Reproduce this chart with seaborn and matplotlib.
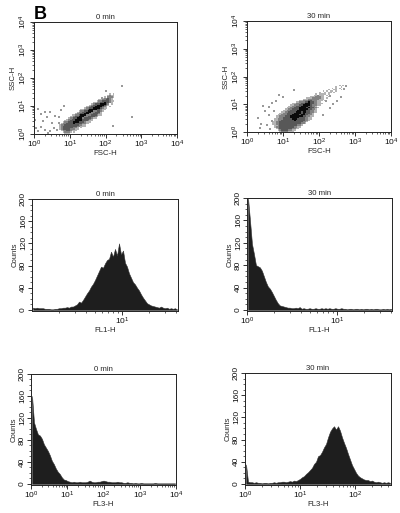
import matplotlib
matplotlib.use('Agg')
import matplotlib.pyplot as plt
import seaborn as sns
import numpy as np
from matplotlib.colors import ListedColormap
from matplotlib.ticker import LogLocator, NullFormatter, FixedLocator, FuncFormatter

# density levels, top row first, 0.05 decade cells, '.' is empty
dens_0min = [
    "..............................1.1",
    ".............................1211",
    "...........................1.2221",
    "..........................122321",
    "........................11223321",
    ".......................1223333211",
    ".....................11223343321",
    "....................1233344432.1",
    "...................12334444321",
    ".................112334444321.1",
    "................1223344443211",
    "..............11223444433211",
    ".............12233444223321",
    "............12233444223331",
    "...........122334442233321",
    ".........11223444222333211",
    "........1123344422333321",
    ".......1223344423333211",
    "......122334444333321",
    ".....1123334444333211",
    "....1223334443332111",
    "...1223333433332211",
    "..122333333332211",
    "..123333333322111",
    "..12333333221.1",
    "..12333322211",
    "...122332111",
    "....12221.1",
    ".....111",
]
dens_30min = [
    ".......................................1.1",
    ".....................................1..1",
    "...................................1.1.1",
    ".................................1..11..1",
    "..............................1.1.11.1",
    "............................1..1.11.1",
    "..........................1.1111.1",
    ".........................112111.1",
    ".......................11122211..1",
    ".....................1112222211.1",
    "...................111222222111",
    ".................1122233222111.1",
    "...............11222334332211",
    ".............11222334443322111",
    "............11222334444322211",
    "...........1122333444433221",
    "..........112233344443433221",
    ".........112233334444433221",
    "........1122333344444332211",
    ".......11223333444344332211",
    "......1122333344443433321",
    ".....11222333444434433221",
    "....112223334444444332211",
    "....11223333444443332211",
    "...112223333344433332211",
    "...11223333333433333221",
    "..11223333333333333221",
    "..1122333333333333221",
    "..11223333333333221",
    "...1123333333333221",
    "...122333333332211",
    "....1233333332211",
    ".....1233332211",
    "......12222111",
]

# stray events outside the clouds, in decades
stray_x_0 = [.03, .05, .1, .2, .25, .3, .35, .45, .5, .55, .6, .65, .7, .3, .4, .2, .75, .7, .85, 2.75, 2.2, 2.45, 2.0, 1.9, .45, .1]
stray_y_0 = [.5, .2, .1, .25, .45, .15, .6, .1, .4, .2, .65, .15, .4, .8, .05, .7, .85, .6, 1.0, .6, .3, 1.7, 1.55, 1.3, .8, .9]
stray_x_30 = [.3, .4, .5, .55, .6, .65, .7, .45, .35, .75, .6, .7, .8, 2.2, 2.4, 2.6, 2.7, 2.75, 2.3, 2.5, 1.0, 1.3, .9, 2.1, 2.3]
stray_y_30 = [.5, .3, .75, .25, .6, .1, .4, .95, .15, .75, .9, 1.05, 1.1, 1.1, 1.0, 1.25, 1.55, 1.65, .85, 1.1, 1.25, 1.5, 1.35, .6, 1.3]

# histogram counts, left to right over each axis
fl1_0min = [4, 3, 4, 3, 3, 3, 2, 2, 2, 1, 1, 2, 2, 3, 3, 4, 4, 5, 4, 6, 6, 8, 10, 15, 13, 18, 24, 30, 35, 42, 47, 54, 62, 70, 78, 76,
            84, 90, 92, 105, 96, 110, 98, 120, 100, 107, 85, 78, 66, 58, 50, 46, 40, 35, 28, 22, 17, 12, 10, 8, 7, 6, 5, 4, 6, 4, 3, 4, 2, 3, 2, 3, 1]
fl1_30min = [200, 160, 118, 100, 80, 78, 76, 70, 60, 50, 42, 38, 32, 25, 18, 12, 8, 7, 6, 5, 4, 4, 3, 3, 4, 3, 5, 2, 3, 2, 2, 3, 2, 2, 3, 2,
             2, 3, 2, 3, 2, 3, 2, 2, 3, 2, 2, 3, 2, 2, 1, 2, 2, 1, 2, 2, 1, 2, 1, 2, 2, 1, 2, 1, 2, 2, 1, 1, 2, 1, 2, 1, 2]
fl3_0min = [160, 112, 100, 90, 88, 82, 72, 66, 60, 52, 42, 36, 28, 22, 18, 12, 8, 7, 5, 4, 3, 4, 3, 3, 4, 3, 3, 3, 4, 6, 4, 3, 3, 4, 4, 5,
            6, 5, 4, 4, 3, 3, 3, 4, 3, 3, 2, 2, 3, 2, 2, 1, 2, 1, 1, 2, 1, 1, 1, 1, 1, 1, 2, 1, 1, 1, 1, 1, 1, 1, 1, 1, 1]
fl3_30min = [35, 4, 3, 3, 2, 3, 2, 2, 1, 2, 2, 1, 2, 2, 3, 2, 3, 3, 4, 4, 3, 4, 5, 4, 6, 5, 7, 9, 12, 14, 18, 21, 25, 29, 36, 40, 50, 52,
             58, 66, 72, 84, 94, 100, 104, 98, 104, 96, 84, 74, 65, 54, 44, 34, 27, 20, 15, 12, 10, 8, 7, 7, 5, 6, 4, 3, 4, 3, 2, 3, 2, 3, 2]

sns.set_style('ticks')
plt.rcParams['font.family'] = ['Liberation Sans', 'DejaVu Sans']
plt.rcParams['mathtext.fontset'] = 'custom'
plt.rcParams['mathtext.rm'] = 'Liberation Sans'
plt.rcParams['mathtext.default'] = 'regular'
FS = 5.6
W, H = 400, 513

fig = plt.figure(figsize=(W / 100, H / 100), dpi=100)
grays = ListedColormap(['white', '#b4b4b4', '#828282', '#585858', '#0a0a0a'])
pow_fmt = FuncFormatter(lambda v, p: '$10^{%d}$' % round(np.log10(v)))


def new_axes(left, top, right, bottom):
    ax = fig.add_axes([left / W, 1 - bottom / H, (right - left) / W, (bottom - top) / H])
    for s in ax.spines.values():
        s.set_visible(True)
        s.set_linewidth(0.7)
        s.set_color('#222222')
    ax.tick_params(which='major', length=2.6, width=0.6, labelsize=6, pad=1, colors='#111111')
    ax.tick_params(which='minor', length=1.4, width=0.5)
    return ax


def log_xaxis(ax, xmax, labelled):
    ax.set_xscale('log')
    ax.set_xlim(1, 10 ** xmax)
    ax.xaxis.set_major_locator(FixedLocator([10 ** d for d in labelled]))
    ax.xaxis.set_major_formatter(pow_fmt)
    ax.xaxis.set_minor_locator(LogLocator(base=10, subs=range(2, 10), numticks=20))
    ax.xaxis.set_minor_formatter(NullFormatter())


def dot_panel(box, rows, sx, sy, title):
    ax = new_axes(*box)
    nx = max(len(r) for r in rows)
    ny = len(rows)
    xs, ys, lv = [], [], []
    for i, row in enumerate(rows[::-1]):
        for j, c in enumerate(row.ljust(nx, '.')):
            xs.append(10 ** (0.625 + 0.05 * j))
            ys.append(10 ** (0.025 + 0.05 * i))
            lv.append(0 if c == '.' else int(c))
    sns.histplot(x=xs, y=ys, weights=lv, bins=(nx, ny), log_scale=(True, True),
                 binrange=((0.6, 0.6 + 0.05 * nx), (0, 0.05 * ny)), cmap=grays, vmin=0, vmax=4, ax=ax)
    sns.scatterplot(x=[10 ** v for v in sx], y=[10 ** v for v in sy], marker='s', s=1.6,
                    color='#999999', linewidth=0, ax=ax)
    log_xaxis(ax, 4, [0, 1, 2, 3, 4])
    ax.set_ylim(1, 1e4)
    ax.yaxis.set_major_locator(FixedLocator([1, 10, 100, 1000, 10000]))
    ax.yaxis.set_major_formatter(pow_fmt)
    ax.yaxis.set_minor_locator(LogLocator(base=10, subs=range(2, 10), numticks=20))
    ax.yaxis.set_minor_formatter(NullFormatter())
    plt.setp(ax.get_yticklabels(), rotation=90, va='center')
    ax.set_xlabel('FSC-H', fontsize=FS, labelpad=0)
    ax.set_ylabel('SSC-H', fontsize=FS, labelpad=1)
    ax.set_title(title, fontsize=FS, pad=2.5)


def hist_panel(box, counts, xmax, labelled, xlabel, title):
    ax = new_axes(*box)
    step = xmax / len(counts)
    vals = [10 ** (step * (i + 0.5)) for i in range(len(counts))]
    sns.histplot(x=vals, weights=counts, bins=len(counts), binrange=(0, xmax), log_scale=True,
                 element='poly', color='#1e1e1e', alpha=1, linewidth=0.4, edgecolor='#333333', ax=ax)
    log_xaxis(ax, xmax, labelled)
    ax.set_ylim(-2, 200)
    ax.yaxis.set_major_locator(FixedLocator([0, 40, 80, 120, 160, 200]))
    ax.yaxis.set_minor_locator(FixedLocator(list(range(0, 201, 10))))
    plt.setp(ax.get_yticklabels(), rotation=90, va='center')
    ax.set_xlabel(xlabel, fontsize=FS, labelpad=0)
    ax.set_ylabel('Counts', fontsize=FS, labelpad=1)
    ax.set_title(title, fontsize=FS, pad=2.5)


dot_panel((34, 22, 177, 134), dens_0min, stray_x_0, stray_y_0, '0 min')
dot_panel((247, 21, 391, 132), dens_30min, stray_x_30, stray_y_30, '30 min')
hist_panel((32, 199, 178, 311), fl1_0min, 1.62, [1], 'FL1-H', '0 min')
hist_panel((247, 198, 392, 311), fl1_30min, 1.61, [0, 1], 'FL1-H', '30 min')
hist_panel((31, 374, 176, 485), fl3_0min, 4, [0, 1, 2, 3, 4], 'FL3-H', '0 min')
hist_panel((245, 373, 391, 485), fl3_30min, 2.65, [0, 1, 2], 'FL3-H', '30 min')

fig.text(34 / W, 1 - 19 / H, 'B', fontsize=13, fontweight='bold', color='black', ha='left', va='baseline')

fig.savefig('out.png', dpi=100)
